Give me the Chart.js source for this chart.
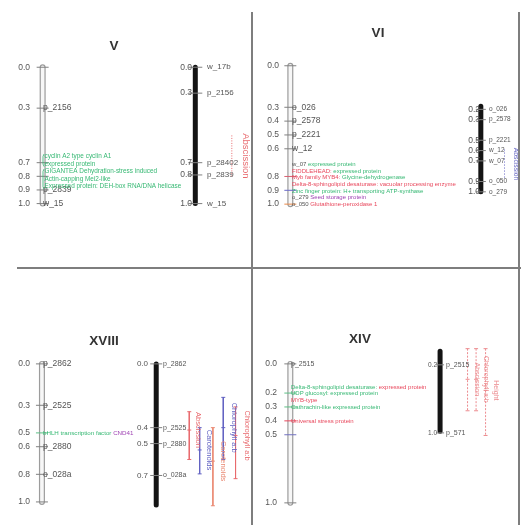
<!DOCTYPE html>
<html lang="en">
<head>
  <meta charset="UTF-8" />
  <title>Linkage groups V, VI, XVIII, XIV</title>
  <script src="https://cdn.jsdelivr.net/npm/chart.js"></script>
  <style>
    body { margin: 0; background: #fff; }
    #page { position: relative; width: 521px; height: 525px; overflow: hidden; }
    .panel { position: absolute; }
    .rule { position: absolute; background: #7e7e7e; }
  </style>
</head>
<body>
<div id="page">
  <div class="panel" style="left:0;top:0"><canvas id="cV"></canvas></div>
  <div class="panel" style="left:253px;top:0"><canvas id="cVI"></canvas></div>
  <div class="panel" style="left:0;top:268px"><canvas id="cXVIII"></canvas></div>
  <div class="panel" style="left:253px;top:268px"><canvas id="cXIV"></canvas></div>
  <div class="rule" style="left:251px;top:12px;width:2px;height:513px"></div>
  <div class="rule" style="left:17px;top:267px;width:504px;height:2px"></div>
  <div class="rule" style="left:518px;top:12px;width:2px;height:513px"></div>
</div>

<script>
  // ---- group V ----
  const vLeftPos = [0, 0.3, 0.7, 0.8, 0.9, 1.0];
  const vLeftTicks = ['0.0', '0.3', '0.7', '0.8', '0.9', '1.0'];
  const vLeftNames = ['', 'p_2156', '', '', 'p_2839', 'w_15'];
  const vLeftNotes = [
    { at: 0.655, lines: [[['cyclin A2 type cyclin A1', 'g']], [['expressed protein', 'g']]] },
    { at: 0.765, lines: [[['GIGANTEA Dehydration-stress induced', 'g']], [['Actin-capping Mei2-like', 'g']],
                         [['Expressed protein: DEH-box RNA/DNA helicase', 'g']]] }
  ];
  const vRightPos = [0, 0.19, 0.7, 0.79, 1.0];
  const vRightTicks = ['0.0', '0.3', '0.7', '0.8', '1.0'];
  const vRightNames = ['w_17b', 'p_2156', 'p_28402', 'p_2839', 'w_15'];
  const vQtl = [{ trait: 'Abscission', lo: 0.5, hi: 0.81, peak: 0.65 }];

  // ---- group VI ----
  const viLeftPos = [0, 0.3, 0.4, 0.5, 0.6, 0.8, 0.9, 1.0];
  const viLeftTicks = ['0.0', '0.3', '0.4', '0.5', '0.6', '0.8', '0.9', '1.0'];
  const viLeftNames = ['', 'o_026', 'p_2578', 'p_2221', 'w_12', '', '', ''];
  const viLeftNotes = [
    { at: 0.712, lines: [
      [['w_07', 'k'], [' expressed protein', 'g']],
      [['FIDDLEHEAD:', 'r'], [' expressed protein', 'g']],
      [['Myb family MYB4:', 'r'], [' Glycine-dehydrogenase', 'g']],
      [['Delta-8-sphingolipid desaturase: vacuolar processing enzyme', 'r']],
      [['Zinc finger protein: H+ transporting ATP-synthase', 'g']],
      [['o_279', 'k'], [' Seed storage protein', 'p']]
    ] },
    { at: 1.0, lines: [[['o_050', 'k'], [' Glutathione-peroxidase 1', 'r']]] }
  ];
  const viRightPos = [0.2, 0.3, 0.5, 0.6, 0.7, 0.9, 1.0];
  const viRightTicks = ['0.2', '0.3', '0.5', '0.6', '0.7', '0.9', '1.0'];
  const viRightNames = ['o_026', 'p_2578', 'p_2221', 'w_12', 'w_07', 'o_050', 'o_279'];
  const viQtl = [{ trait: 'Abscission', lo: 0.59, hi: 0.88, peak: 0.73 }];

  // ---- group XVIII ----
  const xviiiLeftPos = [0, 0.3, 0.5, 0.6, 0.8, 1.0];
  const xviiiLeftTicks = ['0.0', '0.3', '0.5', '0.6', '0.8', '1.0'];
  const xviiiLeftNames = ['p_2862', 'p_2525', '', 'p_2880', 'o_028a', ''];
  const xviiiLeftNotes = [
    { at: 0.5, lines: [[['bHLH transcription factor', 'g'], [' CND41', 'p']]] }
  ];
  const xviiiRightPos = [0, 0.4, 0.5, 0.7];
  const xviiiRightTicks = ['0.0', '0.4', '0.5', '0.7'];
  const xviiiRightNames = ['p_2862', 'p_2525', 'p_2880', 'o_028a'];
  const xviiiQtl = [
    { trait: 'Abscission', lo: 0.3, hi: 0.6, peak: 0.415 },
    { trait: 'Carotenoids', lo: 0.4, hi: 0.69, peak: 0.54 },
    { trait: 'Carotenoids', lo: 0.4, hi: 0.89, peak: 0.61 },
    { trait: 'Chlorophyll a:b', lo: 0.21, hi: 0.6, peak: 0.4 },
    { trait: 'Chlorophyll a:b', lo: 0.27, hi: 0.72, peak: 0.45 }
  ];

  // ---- group XIV ----
  const xivLeftPos = [0, 0.21, 0.31, 0.41, 0.51, 1.0];
  const xivLeftTicks = ['0.0', '0.2', '0.3', '0.4', '0.5', '1.0'];
  const xivLeftNames = ['p_2515', '', '', '', '', ''];
  const xivLeftNotes = [
    { at: 0.17, lines: [
      [['Delta-8-sphingolipid desaturase:', 'g'], [' expressed protein', 'r']],
      [['UDP glucosyl:', 'g'], [' expressed protein', 'g']],
      [['MYB-type', 'r']]
    ] },
    { at: 0.31, lines: [[['Cathrachin-like', 'g'], [' expressed protein', 'g']]] },
    { at: 0.41, lines: [[['Universal stress protein', 'r']]] }
  ];
  const xivRightPos = [0.2, 1.0];
  const xivRightTicks = ['0.2', '1.0'];
  const xivRightNames = ['p_2515', 'p_571'];
  const xivQtl = [
    { trait: 'Abscission', lo: 0.01, hi: 0.74, peak: 0.37 },
    { trait: 'Chlorophyll a:b', lo: 0.01, hi: 0.74, peak: 0.37 },
    { trait: 'Height', lo: 0.01, hi: 1.03, peak: 0.5 }
  ];

  const FONT = "'Liberation Sans', Arial, sans-serif";
  const COL = { g: '#36b873', r: '#e8475c', p: '#a044b4', k: '#555555', b: '#5a5ac0' };
  const RED_Q = '#e86a6e';
  const BLUE_Q = '#6262c2';

  const panels = [
    {
      id: 'cV', title: 'V', w: 252, h: 268, titleX: 114, titleY: 46,
      L: { x: 37, zero: 63, one: 208, body: [0, 1], tickLen: 6, labelGap: 7, nameGap: 6,
           tickFont: 8.5, nameFont: 8.5, noteFont: 6.4, noteGap: 7.5, brace: true,
           pos: vLeftPos, ticks: vLeftTicks, names: vLeftNames, notes: vLeftNotes },
      R: { x: 200, zero: 63, one: 208, body: [0, 1], solid: true, tickLen: 7, labelGap: 8, nameGap: 7,
           tickFont: 8.5, nameFont: 8, pos: vRightPos, ticks: vRightTicks, names: vRightNames },
      qtl: vQtl, qtlX: [239], qtlColor: [RED_Q], qtlDash: [1, 1.5], qtlFont: 9.5, qtlCaps: false
    },
    {
      id: 'cVI', title: 'VI', w: 268, h: 268, titleX: 125, titleY: 33,
      L: { x: 32, zero: 62, one: 208, body: [0, 1], tickLen: 6, labelGap: 6, nameGap: 7,
           tickFont: 8.5, nameFont: 8.5, noteFont: 6, noteGap: 6.7,
           tickColors: ['#808080', '#808080', '#808080', '#808080', '#808080', '#d86070', '#6a6ac8', '#e8894a'],
           pos: viLeftPos, ticks: viLeftTicks, names: viLeftNames, notes: viLeftNotes },
      R: { x: 233, zero: 86.25, one: 195, body: [0.17, 1.0], solid: true, tickLen: 5, labelGap: 6, nameGap: 3,
           tickFont: 8.5, nameFont: 6.5, pos: viRightPos, ticks: viRightTicks, names: viRightNames },
      qtl: viQtl, qtlX: [258], qtlColor: [BLUE_Q], qtlDash: [1, 2], qtlFont: 6.8, qtlCaps: false
    },
    {
      id: 'cXVIII', title: 'XVIII', w: 252, h: 257, titleX: 104, titleY: 73,
      L: { x: 37, zero: 94, one: 240, body: [0, 1], tickLen: 6, labelGap: 7, nameGap: 6,
           tickFont: 8.5, nameFont: 8.5, noteFont: 6.2, noteGap: 7,
           tickColors: ['#808080', '#808080', '#5cbf85', '#808080', '#808080', '#808080'],
           pos: xviiiLeftPos, ticks: xviiiLeftTicks, names: xviiiLeftNames, notes: xviiiLeftNotes },
      R: { x: 158, zero: 94, one: 262.6, body: [0, 0.885], solid: true, tickLen: 6, labelGap: 10, nameGap: 5,
           tickFont: 8, nameFont: 7, pos: xviiiRightPos, ticks: xviiiRightTicks, names: xviiiRightNames },
      qtl: xviiiQtl, qtlX: [193, 204, 218, 229, 242],
      qtlColor: [RED_Q, BLUE_Q, '#ea8a74', BLUE_Q, RED_Q], qtlDash: [], qtlFont: 7.5, qtlCaps: true
    },
    {
      id: 'cXIV', title: 'XIV', w: 268, h: 257, titleX: 107, titleY: 71,
      L: { x: 32, zero: 94, one: 241, body: [0, 1], tickLen: 6, labelGap: 8, nameGap: 6,
           tickFont: 8.5, nameFont: 7, noteFont: 6, noteGap: 6.2,
           tickColors: ['#808080', '#5cbf85', '#5cbf85', '#e8475c', '#7070c0', '#808080'],
           pos: xivLeftPos, ticks: xivLeftTicks, names: xivLeftNames, notes: xivLeftNotes },
      R: { x: 190, zero: 77, one: 167, body: [0.04, 0.98], solid: true, tickLen: 4, labelGap: 6, nameGap: 3,
           tickFont: 6.5, nameFont: 7, pos: xivRightPos, ticks: xivRightTicks, names: xivRightNames },
      qtl: xivQtl, qtlX: [219, 228, 238], qtlColor: ['#ec8a8e', '#ec8a8e', '#ec8a8e'],
      qtlDash: [2, 1.5], qtlFont: 7, qtlCaps: true
    }
  ];

  function yRange(zero, one, h) {
    const unit = one - zero;
    return { min: -zero / unit, max: (h - zero) / unit };
  }

  function chromDatasets(C, axis) {
    const out = [];
    const body = C.body.map(v => ({ x: C.x, y: v }));
    const line = { data: body, yAxisID: axis, showLine: true, borderCapStyle: 'round', pointRadius: 0 };
    if (C.solid) {
      out.push(Object.assign({}, line, { borderColor: '#141414', borderWidth: 5 }));
    } else {
      out.push(Object.assign({}, line, { borderColor: '#9c9c9c', borderWidth: 6 }));
      out.push(Object.assign({}, line, { data: body.map(p => ({ ...p })), borderColor: '#f7f7f7', borderWidth: 3.6 }));
    }
    out.push({
      data: C.pos.map(v => ({ x: C.x, y: v })), yAxisID: axis, showLine: false,
      pointStyle: 'line', pointRadius: C.tickLen, pointBorderWidth: 1,
      pointBorderColor: C.tickColors || '#808080'
    });
    return out;
  }

  function drawLabels(chart, P) {
    const ctx = chart.ctx;
    ctx.save();
    ctx.fillStyle = '#333';
    ctx.font = 'bold 13.5px ' + FONT;
    ctx.textAlign = 'center';
    ctx.textBaseline = 'middle';
    ctx.fillText(P.title, P.titleX, P.titleY);

    [['yL', P.L], ['yR', P.R]].forEach(([axis, C]) => {
      const sc = chart.scales[axis];
      ctx.textBaseline = 'middle';
      C.pos.forEach((v, i) => {
        const y = sc.getPixelForValue(v);
        ctx.fillStyle = '#555';
        ctx.font = C.tickFont + 'px ' + FONT;
        ctx.textAlign = 'right';
        ctx.fillText(C.ticks[i], C.x - C.labelGap, y);
        if (C.names[i]) {
          ctx.font = C.nameFont + 'px ' + FONT;
          ctx.textAlign = 'left';
          ctx.fillText(C.names[i], C.x + C.nameGap, y);
        }
      });
      (C.notes || []).forEach(g => {
        const y0 = sc.getPixelForValue(g.at);
        ctx.font = C.noteFont + 'px ' + FONT;
        ctx.textAlign = 'left';
        g.lines.forEach((segs, j) => {
          const y = y0 + j * C.noteGap;
          let x = C.x + C.nameGap + (C.brace ? 1.5 : 0);
          segs.forEach(([txt, key]) => {
            ctx.fillStyle = COL[key];
            ctx.fillText(txt, x, y);
            x += ctx.measureText(txt).width;
          });
        });
        if (C.brace) {
          const yN = y0 + (g.lines.length - 1) * C.noteGap;
          ctx.strokeStyle = COL.g;
          ctx.lineWidth = 0.8;
          ctx.beginPath();
          ctx.moveTo(C.x + C.nameGap + 1, y0 - 2.5);
          ctx.lineTo(C.x + C.nameGap, y0);
          ctx.lineTo(C.x + C.nameGap, yN);
          ctx.lineTo(C.x + C.nameGap + 1, yN + 2.5);
          ctx.stroke();
        }
      });
    });

    const sr = chart.scales.yR;
    P.qtl.forEach((q, i) => {
      ctx.save();
      ctx.translate(P.qtlX[i] + 1.5, sr.getPixelForValue(q.peak));
      ctx.rotate(Math.PI / 2);
      ctx.fillStyle = P.qtlColor[i];
      ctx.font = P.qtlFont + 'px ' + FONT;
      ctx.textAlign = 'center';
      ctx.textBaseline = 'bottom';
      ctx.fillText(q.trait, 0, 0);
      ctx.restore();
    });
    ctx.restore();
  }

  function buildPanel(P) {
    const canvas = document.getElementById(P.id);
    canvas.width = P.w;
    canvas.height = P.h;
    const datasets = [].concat(chromDatasets(P.L, 'yL'), chromDatasets(P.R, 'yR'));

    P.qtl.forEach((q, i) => {
      const x = P.qtlX[i];
      datasets.push({
        data: [{ x: x, y: q.lo }, { x: x, y: q.hi }], yAxisID: 'yR', showLine: true,
        borderColor: P.qtlColor[i], borderWidth: 1, borderDash: P.qtlDash, pointRadius: 0
      });
      if (P.qtlCaps) {
        datasets.push({
          data: [q.lo, q.peak, q.hi].map(v => ({ x: x, y: v })), yAxisID: 'yR', showLine: false,
          pointStyle: 'line', pointRadius: 2, pointBorderWidth: 1, pointBorderColor: P.qtlColor[i]
        });
      }
    });

    // Chart.js paints the first dataset last, so give later ones a lower order to keep them on top
    datasets.forEach((d, i) => { d.order = datasets.length - i; });

    new Chart(canvas, {
      type: 'scatter',
      data: { datasets: datasets },
      options: {
        responsive: false,
        animation: false,
        events: [],
        layout: { padding: 0 },
        plugins: { legend: { display: false }, tooltip: { enabled: false } },
        scales: {
          x: { type: 'linear', min: 0, max: P.w, display: false },
          yL: Object.assign({ type: 'linear', reverse: true, display: false }, yRange(P.L.zero, P.L.one, P.h)),
          yR: Object.assign({ type: 'linear', reverse: true, display: false }, yRange(P.R.zero, P.R.one, P.h))
        }
      },
      plugins: [{ id: 'mapText', afterDatasetsDraw(chart) { drawLabels(chart, P); } }]
    });
  }

  panels.forEach(buildPanel);
</script>
</body>
</html>
